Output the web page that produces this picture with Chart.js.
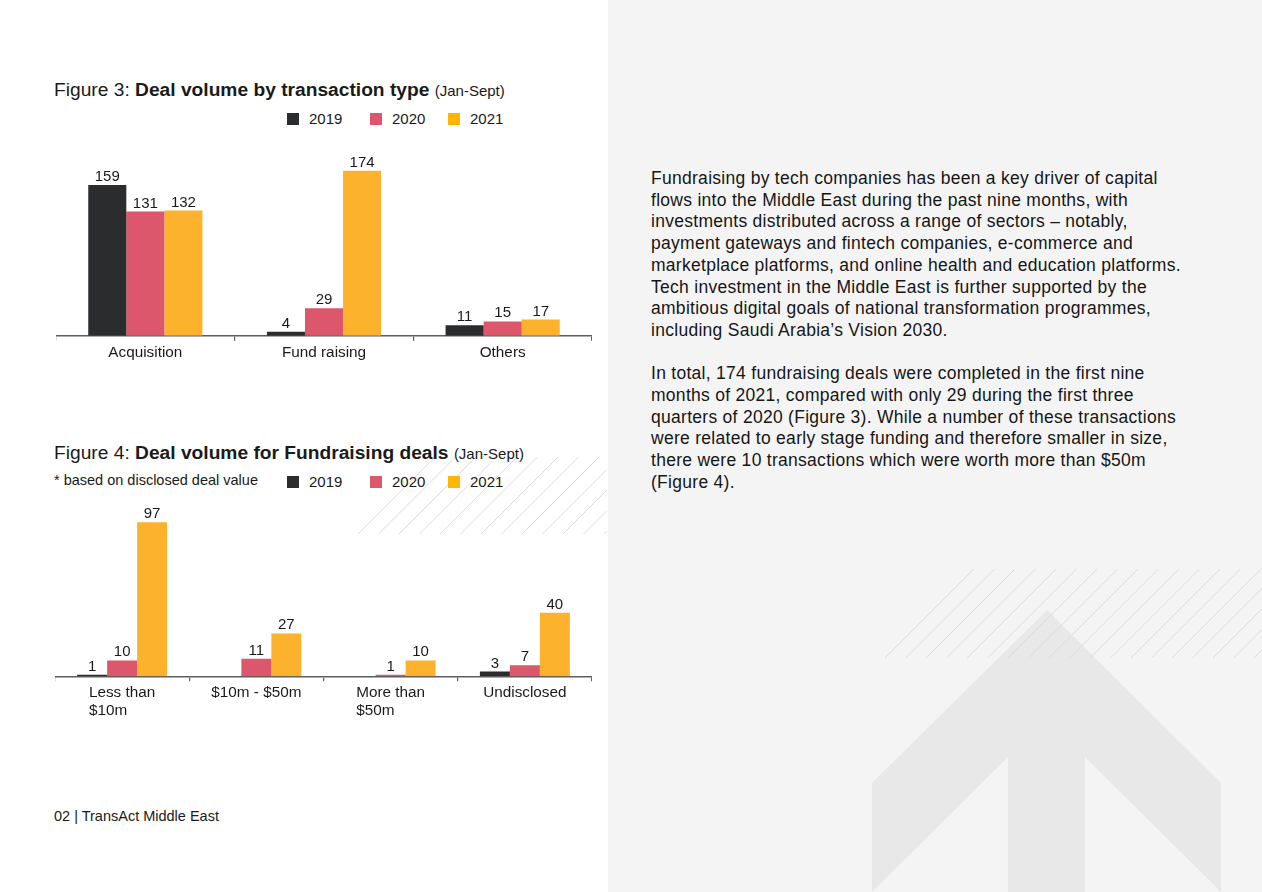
<!DOCTYPE html>
<html>
<head>
<meta charset="utf-8">
<script src="https://cdn.jsdelivr.net/npm/chart.js@4.4.0/dist/chart.umd.min.js"></script>
<style>
  body { margin: 0; width: 1262px; height: 892px; overflow: hidden; background: #fff; position: relative;
         font-family: 'Liberation Sans', Arial, sans-serif; color: #1a1a1a; }
  .abs { position: absolute; }
  #panel { left: 608px; top: 0; width: 654px; height: 892px; background: #f4f4f4; }
  #deco { left: 0; top: 0; }
  .title { left: 54px; font-size: 19.2px; line-height: 22px; white-space: nowrap; }
  .title b { font-weight: bold; }
  .title small { font-size: 15px; }
  .note { left: 54px; font-size: 14.5px; line-height: 18px; white-space: nowrap; }
  .legend { font-size: 15px; line-height: 18px; white-space: nowrap; }
  .legend span.sq { position: absolute; width: 12px; height: 12px; top: 3px; }
  .legend span.tx { position: absolute; top: 0; }
  #text { left: 651px; top: 168px; font-size: 17.5px; letter-spacing: 0.28px; line-height: 21.7px; white-space: nowrap; color: #161616; }
  #footer { left: 54px; top: 807px; font-size: 14.5px; line-height: 18px; }
</style>
</head>
<body>
<div id="panel" class="abs"></div>
<svg id="deco" class="abs" width="1262" height="892"></svg>

<div class="abs title" style="top:79px">Figure 3: <b>Deal volume by transaction type</b> <small>(Jan-Sept)</small></div>
<div class="abs legend" id="legend1" style="left:0;top:110px;width:600px;height:20px"></div>
<div class="abs" style="left:56px;width:536px;top:150px;height:215px"><canvas id="chart1"></canvas></div>

<div class="abs title" style="top:442px">Figure 4: <b>Deal volume for Fundraising deals</b> <small>(Jan-Sept)</small></div>
<div class="abs note" style="top:471px">* based on disclosed deal value</div>
<div class="abs legend" id="legend2" style="left:0;top:473px;width:600px;height:20px"></div>
<div class="abs" style="left:55px;width:537px;top:500px;height:220px"><canvas id="chart2"></canvas></div>

<div id="text" class="abs">
Fundraising by tech companies has been a key driver of capital<br>
flows into the Middle East during the past nine months, with<br>
investments distributed across a range of sectors – notably,<br>
payment gateways and fintech companies, e-commerce and<br>
marketplace platforms, and online health and education platforms.<br>
Tech investment in the Middle East is further supported by the<br>
ambitious digital goals of national transformation programmes,<br>
including Saudi Arabia’s Vision 2030.<br>
<br>
In total, 174 fundraising deals were completed in the first nine<br>
months of 2021, compared with only 29 during the first three<br>
quarters of 2020 (Figure 3). While a number of these transactions<br>
were related to early stage funding and therefore smaller in size,<br>
there were 10 transactions which were worth more than $50m<br>
(Figure 4).
</div>
<div id="footer" class="abs">02 | TransAct Middle East</div>

<script>
// data
const years = ['2019', '2020', '2021'];

const typeLabels = ['Acquisition', 'Fund raising', 'Others'];
const type2019 = [159, 4, 11];
const type2020 = [131, 29, 15];
const type2021 = [132, 174, 17];

const sizeLabels = [['Less than', '$10m'], ['$10m - $50m'], ['More than', '$50m'], ['Undisclosed']];
const size2019 = [1, null, null, 3];
const size2020 = [10, 11, 1, 7];
const size2021 = [97, 27, 10, 40];

const colors = ['#2b2c2e', '#dc566c', '#fcb22c'];
const legendColors = ['#2b2c2e', '#dc566c', '#ffb600'];

Chart.defaults.font.family = "'Liberation Sans', Arial, sans-serif";
Chart.defaults.color = '#1a1a1a';

// decorations: grey panel arrow + hatching
const svg = document.getElementById('deco');
const ns = 'http://www.w3.org/2000/svg';
const arrow = document.createElementNS(ns, 'polygon');
arrow.setAttribute('points', '1047,610 1221,783 1221,892 1085,757 1085,892 1008,892 1008,757 872,892 872,783');
arrow.setAttribute('fill', '#e8e8e8');
svg.appendChild(arrow);

function hatch(x0, x1, yTop, yBot, clipRight) {
  const h = yBot - yTop;
  for (let x = x0; x < x1; x += 20.5) {
    if (x >= clipRight) break;
    const l = document.createElementNS(ns, 'line');
    let xe = x + h, ye = yTop;
    if (xe > clipRight) { ye = yBot - (clipRight - x); xe = clipRight; }
    l.setAttribute('x1', x); l.setAttribute('y1', yBot);
    l.setAttribute('x2', xe); l.setAttribute('y2', ye);
    l.setAttribute('stroke', '#d9d9d9');
    l.setAttribute('stroke-width', '0.9');
    svg.appendChild(l);
  }
}
hatch(358, 610, 457, 534, 607);
hatch(885, 1262, 569, 658, 1262);

// legends
function buildLegend(id) {
  const el = document.getElementById(id);
  const sq = [287, 370, 448];
  years.forEach((y, i) => {
    el.innerHTML += '<span class="sq" style="left:' + sq[i] + 'px;background:' + legendColors[i] + '"></span>' +
      '<span class="tx" style="left:' + (sq[i] + 22) + 'px">' + y + '</span>';
  });
}
buildLegend('legend1');
buildLegend('legend2');

// value labels above bars
const valueLabels = {
  id: 'valueLabels',
  afterDatasetsDraw(chart) {
    const ctx = chart.ctx;
    ctx.save();
    ctx.font = '15px "Liberation Sans", Arial, sans-serif';
    ctx.fillStyle = '#1a1a1a';
    ctx.textAlign = 'center';
    ctx.textBaseline = 'alphabetic';
    chart.data.datasets.forEach((ds, i) => {
      chart.getDatasetMeta(i).data.forEach((bar, j) => {
        const v = ds.data[j];
        if (v === null) return;
        ctx.fillText(String(v), bar.x, bar.y - 4);
      });
    });
    ctx.restore();
  }
};

// multi-line x labels, lines left aligned, block centred on the category
const blockLabels = {
  id: 'blockLabels',
  afterDraw(chart) {
    const ctx = chart.ctx;
    const xs = chart.scales.x;
    ctx.save();
    ctx.font = '15.3px "Liberation Sans", Arial, sans-serif';
    ctx.fillStyle = '#1a1a1a';
    ctx.textAlign = 'left';
    ctx.textBaseline = 'middle';
    chart.data.labels.forEach((lines, i) => {
      const w = Math.max(...lines.map(s => ctx.measureText(s).width));
      const x = xs.getPixelForValue(i) - w / 2;
      lines.forEach((s, k) => ctx.fillText(s, x, chart.chartArea.bottom + 16 + k * 18));
    });
    ctx.restore();
  }
};

function makeDatasets(a, b, c) {
  return [a, b, c].map((d, i) => ({
    label: years[i],
    data: d,
    backgroundColor: colors[i],
    borderWidth: 0
  }));
}

function xAxis(hideText, pad) {
  return {
    offset: true,
    grid: { display: true, offset: true, drawOnChartArea: false, drawTicks: true, tickLength: 5, color: '#5e5e5e', lineWidth: 1.2 },
    border: { display: true, color: '#5e5e5e', width: 1.5 },
    ticks: { padding: pad, font: { size: 15.3 }, color: hideText ? 'rgba(0,0,0,0)' : '#1a1a1a', maxRotation: 0, autoSkip: false }
  };
}

new Chart(document.getElementById('chart1'), {
  type: 'bar',
  data: { labels: typeLabels, datasets: makeDatasets(type2019, type2020, type2021) },
  options: {
    responsive: true,
    maintainAspectRatio: false,
    animation: false,
    categoryPercentage: 0.639,
    barPercentage: 1,
    layout: { padding: 0 },
    scales: {
      x: xAxis(false, 3),
      y: { display: false, min: 0, max: 196 }
    },
    plugins: { legend: { display: false }, tooltip: { enabled: false } }
  },
  plugins: [valueLabels]
});

new Chart(document.getElementById('chart2'), {
  type: 'bar',
  data: { labels: sizeLabels, datasets: makeDatasets(size2019, size2020, size2021) },
  options: {
    responsive: true,
    maintainAspectRatio: false,
    animation: false,
    categoryPercentage: 0.67,
    barPercentage: 1,
    layout: { padding: 0 },
    scales: {
      x: xAxis(true, 1),
      y: { display: false, min: 0, max: 111 }
    },
    plugins: { legend: { display: false }, tooltip: { enabled: false } }
  },
  plugins: [valueLabels, blockLabels]
});
</script>
</body>
</html>
